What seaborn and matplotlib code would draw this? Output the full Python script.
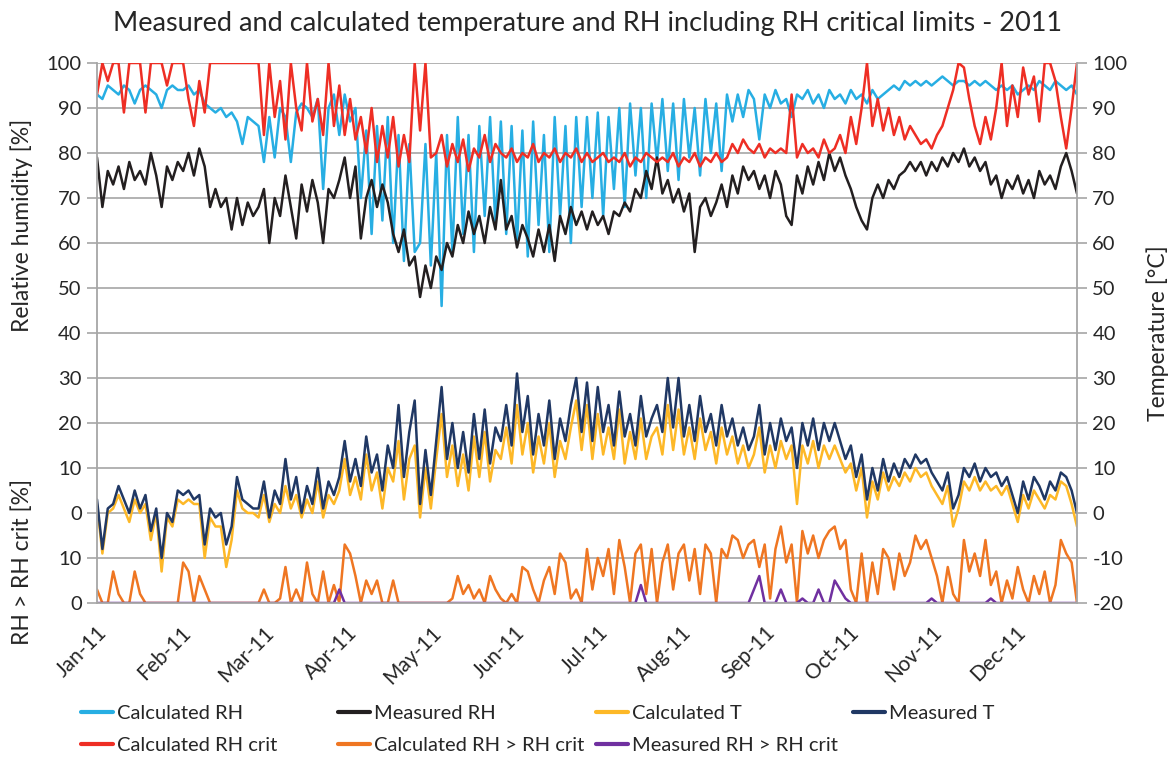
import numpy as np
import pandas as pd
import matplotlib
matplotlib.use("Agg")
import matplotlib.pyplot as plt
from matplotlib.lines import Line2D
import seaborn as sns

# day of year 2011 (0 = 1 Jan), one reading every second day
days = np.arange(0, 365, 2)

month_labels = ['Jan-11', 'Feb-11', 'Mar-11', 'Apr-11', 'May-11', 'Jun-11',
                'Jul-11', 'Aug-11', 'Sep-11', 'Oct-11', 'Nov-11', 'Dec-11']

calc_rh = ([93, 92, 95, 94, 93, 95, 94, 91, 94, 95, 94, 93, 90, 94, 95, 94]     # Jan
           + [94, 95, 93, 94, 91, 90, 89, 90, 88, 89, 87, 82, 88, 87]           # Feb
           + [86, 78, 88, 79, 90, 88, 78, 89, 91, 90, 88, 92, 72, 90, 93]       # Mar
           + [84, 93, 87, 90, 70, 85, 62, 86, 65, 88, 60, 84, 56, 82, 58]       # Apr
           + [60, 82, 55, 80, 46, 84, 58, 88, 62, 84, 58, 86, 66, 88, 64, 87]   # May
           + [62, 86, 60, 85, 57, 87, 64, 84, 58, 88, 66, 86, 60, 88, 68]       # Jun
           + [88, 70, 89, 66, 88, 72, 90, 68, 91, 75, 90, 70, 91, 78, 92]       # Jul
           + [76, 91, 74, 92, 79, 90, 75, 92, 80, 91, 76, 93, 87, 93, 88, 94]   # Aug
           + [92, 83, 93, 90, 94, 91, 92, 88, 93, 92, 94, 91, 93, 90, 94]       # Sep
           + [92, 93, 91, 94, 92, 93, 91, 94, 92, 93, 94, 95, 94, 96, 95]       # Oct
           + [96, 95, 96, 95, 96, 97, 96, 95, 96, 96, 95, 96, 95, 96, 95]       # Nov
           + [94, 95, 94, 95, 93, 94, 95, 94, 96, 95, 94, 96, 95, 94, 95, 93])  # Dec

meas_rh = ([79, 68, 76, 73, 77, 72, 78, 74, 76, 73, 80, 75, 68, 77, 74, 78]
           + [76, 80, 75, 81, 77, 68, 72, 68, 70, 63, 70, 64, 69, 66]
           + [68, 72, 60, 70, 66, 75, 68, 61, 73, 67, 74, 69, 60, 72, 70]
           + [74, 79, 70, 77, 61, 70, 74, 68, 73, 69, 62, 58, 63, 55, 57]
           + [48, 55, 50, 57, 54, 60, 57, 64, 60, 67, 62, 66, 60, 68, 63, 74]
           + [63, 66, 59, 64, 61, 57, 63, 58, 64, 56, 66, 62, 68, 64, 67]
           + [63, 67, 64, 66, 62, 67, 66, 69, 67, 72, 70, 76, 72, 79, 71]
           + [74, 69, 72, 67, 71, 58, 68, 70, 66, 69, 73, 68, 75, 71, 77, 74]
           + [76, 72, 75, 70, 76, 73, 66, 64, 75, 71, 77, 73, 78, 74, 80]
           + [76, 79, 75, 72, 68, 65, 63, 70, 73, 70, 74, 72, 75, 76, 78]
           + [76, 78, 75, 78, 76, 79, 77, 80, 78, 81, 77, 79, 76, 78, 73]
           + [75, 70, 74, 72, 75, 71, 74, 70, 76, 73, 75, 72, 77, 80, 76, 71])

calc_t = ([2, -9, 0, 1, 4, 1, -2, 3, 0, 2, -6, 0, -13, -1, -3, 3]
          + [2, 3, 2, 2, -10, -1, -3, -3, -12, -6, 5, 1, 0, 0]
          + [-1, 4, -2, 2, 0, 6, 1, 4, -1, 3, 0, 7, -1, 4, 2]
          + [5, 12, 4, 8, 3, 13, 5, 9, 1, 10, 7, 16, 3, 12, 15]
          + [-1, 10, 1, 12, 22, 8, 15, 6, 13, 5, 17, 8, 18, 7, 14, 12]
          + [19, 11, 24, 13, 20, 9, 17, 11, 20, 8, 16, 12, 19, 25, 14]
          + [24, 12, 22, 13, 19, 12, 23, 11, 18, 12, 21, 12, 17, 19, 13]
          + [24, 14, 23, 13, 19, 12, 21, 14, 18, 11, 19, 13, 17, 11, 15, 10]
          + [13, 19, 9, 15, 10, 16, 12, 15, 2, 15, 11, 16, 10, 15, 12]
          + [15, 12, 9, 11, 5, 10, -1, 7, 3, 9, 5, 8, 6, 9, 7]
          + [10, 8, 9, 6, 4, 2, 6, -3, 1, 7, 5, 8, 5, 7, 5]
          + [6, 4, 6, 2, -2, 4, 1, 5, 3, 1, 4, 3, 7, 6, 2, -3])

meas_t = ([3, -8, 1, 2, 6, 3, 0, 5, 1, 4, -4, 1, -10, 0, -2, 5]
          + [4, 5, 3, 4, -7, 1, -1, 0, -7, -3, 8, 3, 2, 1]
          + [1, 7, -1, 5, 2, 12, 3, 8, 0, 6, 2, 10, 1, 7, 4]
          + [8, 16, 7, 12, 6, 17, 9, 13, 5, 15, 10, 24, 8, 18, 25]
          + [2, 14, 4, 16, 28, 12, 20, 10, 18, 9, 22, 12, 23, 11, 19, 16]
          + [24, 15, 31, 18, 26, 13, 22, 15, 25, 12, 21, 16, 24, 30, 18]
          + [29, 16, 28, 18, 24, 15, 27, 17, 22, 15, 26, 17, 21, 24, 18]
          + [30, 19, 30, 17, 24, 16, 26, 18, 22, 15, 24, 17, 21, 15, 19, 14]
          + [17, 24, 13, 20, 14, 21, 16, 19, 10, 20, 15, 21, 14, 20, 16]
          + [20, 16, 12, 15, 8, 13, 3, 10, 5, 12, 7, 11, 8, 12, 10]
          + [13, 11, 12, 9, 7, 5, 9, 1, 4, 10, 8, 11, 7, 10, 8]
          + [9, 6, 8, 4, 0, 7, 3, 8, 6, 3, 7, 5, 9, 8, 5, 0])

calc_rh_crit = ([93, 100, 96, 100, 100, 89, 100, 100, 100, 89, 100, 100, 100, 95, 100, 100]
                + [100, 92, 86, 96, 89, 100, 100, 100, 100, 100, 100, 100, 100, 100]
                + [100, 84, 100, 88, 96, 83, 100, 90, 85, 100, 87, 92, 84, 100, 86]
                + [95, 84, 92, 83, 88, 80, 90, 78, 86, 79, 88, 77, 84, 78, 100]
                + [85, 100, 79, 80, 84, 77, 82, 78, 83, 76, 81, 79, 84, 78, 82, 80]
                + [79, 81, 78, 80, 79, 82, 78, 80, 79, 81, 78, 80, 79, 81, 78]
                + [80, 78, 79, 80, 78, 79, 78, 80, 77, 79, 78, 80, 79, 78, 79]
                + [78, 80, 77, 79, 78, 80, 77, 79, 78, 80, 78, 79, 82, 80, 83, 81]
                + [80, 82, 79, 81, 80, 81, 80, 93, 79, 82, 80, 81, 79, 83, 80]
                + [81, 84, 80, 88, 82, 90, 100, 86, 92, 85, 90, 84, 88, 83, 86]
                + [84, 82, 83, 81, 84, 86, 90, 94, 100, 99, 92, 86, 82, 88, 83]
                + [90, 100, 86, 95, 88, 99, 93, 97, 87, 100, 100, 96, 88, 81, 90, 100])

# exceedance of the critical RH, % (plotted on the bottom band of the chart)
calc_exc = ([3, 0, 0, 7, 2, 0, 0, 7, 2, 0, 0, 0, 0, 0, 0, 0]
            + [9, 7, 0, 6, 3, 0, 0, 0, 0, 0, 0, 0, 0, 0]
            + [0, 3, 0, 0, 1, 8, 0, 3, 0, 9, 2, 0, 7, 0, 4]
            + [0, 13, 11, 6, 0, 5, 2, 5, 0, 0, 5, 0, 0, 0, 0]
            + [0, 0, 0, 0, 0, 0, 1, 6, 2, 4, 1, 3, 0, 6, 3, 1]
            + [0, 2, 0, 8, 7, 3, 0, 5, 8, 2, 11, 9, 1, 3, 0]
            + [12, 3, 10, 6, 12, 2, 14, 8, 0, 11, 13, 2, 12, 0, 9]
            + [13, 3, 11, 13, 5, 12, 2, 13, 11, 0, 12, 10, 15, 14, 10, 13]
            + [14, 8, 13, 1, 12, 17, 9, 13, 0, 16, 11, 15, 10, 14, 16]
            + [17, 12, 14, 3, 0, 11, 0, 9, 2, 12, 10, 3, 11, 6, 9]
            + [15, 12, 14, 10, 6, 0, 8, 2, 0, 14, 7, 11, 6, 14, 4]
            + [7, 0, 5, 1, 8, 3, 0, 6, 2, 7, 0, 4, 14, 11, 9, 0])

# measured exceedance is zero except for a few short events
meas_exc_days = [90, 202, 244, 246, 254, 262, 268, 274, 276, 278, 310, 332]
meas_exc_vals = [3, 4, 3, 6, 3, 1, 3, 5, 3, 1, 1, 1]

meas_exc = np.zeros(len(days))
meas_exc[np.searchsorted(days, meas_exc_days)] = meas_exc_vals

df = pd.DataFrame({'day': days, 'calc_rh': calc_rh, 'meas_rh': meas_rh,
                   'calc_t': calc_t, 'meas_t': meas_t, 'calc_rh_crit': calc_rh_crit,
                   'calc_exc': calc_exc, 'meas_exc': meas_exc})
# the exceedance band has its own zero at -20 of the main scale
df['calc_exc_band'] = df['calc_exc'] - 20
df['meas_exc_band'] = df['meas_exc'] - 20

series = [('calc_rh', 'Calculated RH', '#27aee3'),
          ('meas_rh', 'Measured RH', '#231f20'),
          ('calc_t', 'Calculated T', '#fdb827'),
          ('meas_t', 'Measured T', '#203864'),
          ('calc_rh_crit', 'Calculated RH crit', '#ee2e24'),
          ('calc_exc_band', 'Calculated RH > RH crit', '#ef7622'),
          ('meas_exc_band', 'Measured RH > RH crit', '#7030a0')]
colors = {label: c for _, label, c in series}

sns.set_theme(style="white")
plt.rcParams['font.family'] = ['Lato', 'DejaVu Sans']
grey = '#a6a6a6'
ink = '#262626'

fig = plt.figure(figsize=(11.75, 7.65), dpi=100)
ax = fig.add_axes([97 / 1175, 1 - 603 / 765, 980 / 1175, 540 / 765])

for col, label, color in series:
    sns.lineplot(data=df, x='day', y=col, color=color, lw=1.8, ax=ax, legend=False)

ax.set_xlim(0, 364)
ax.set_ylim(-20, 100)
yt = np.arange(-20, 101, 10)
ax.set_yticks(yt)
ax.set_yticklabels(['0', '10'] + [str(v) for v in range(0, 101, 10)])
ax.yaxis.grid(True, color=grey, lw=1.2)
ax.set_axisbelow(True)
ax.set_xticks(np.arange(12) * 31)
ax.set_xticklabels(month_labels, rotation=45, ha='right', rotation_mode='anchor')
ax.set_xlabel('')
ax.set_ylabel('')
ax.tick_params(axis='x', direction='out', length=6, color=grey, width=1.2,
               labelsize=15, pad=8, colors=ink)
ax.tick_params(axis='y', direction='out', length=7, color=grey, width=1.2,
               labelsize=14.5, pad=4, colors=ink, left=True)
for s in ['left', 'right', 'bottom']:
    ax.spines[s].set_color(grey)
    ax.spines[s].set_linewidth(1.3)
    ax.spines[s].set_zorder(5)
ax.spines['top'].set_visible(False)

ax2 = ax.twinx()
ax2.set_ylim(-20, 100)
ax2.set_yticks(yt)
ax2.set_yticklabels([str(v) for v in yt])
ax2.tick_params(axis='y', direction='out', length=7, color=grey, width=1.2,
                labelsize=14.5, pad=4, colors=ink, right=True)
for s in ax2.spines.values():
    s.set_visible(False)

fig.text(0.5, 1 - 24 / 765, 'Measured and calculated temperature and RH including RH critical limits - 2011',
         ha='center', va='center', fontsize=19.5, color=ink)
fig.text(22 / 1175, 1 - 225 / 765, 'Relative humidity [%]', rotation=90,
         ha='center', va='center', fontsize=16.5, color=ink)
fig.text(22 / 1175, 1 - 562 / 765, 'RH > RH crit [%]', rotation=90,
         ha='center', va='center', fontsize=16.5, color=ink)
fig.text(1158 / 1175, 1 - 333 / 765, 'Temperature [°C]', rotation=90,
         ha='center', va='center', fontsize=16.5, color=ink)

legend_cols = [(81, ['Calculated RH', 'Calculated RH crit']),
               (338, ['Measured RH', 'Calculated RH > RH crit']),
               (596, ['Calculated T', 'Measured RH > RH crit']),
               (853, ['Measured T'])]
for x0, labels in legend_cols:
    handles = [Line2D([], [], color=colors[l], lw=3) for l in labels]
    fig.legend(handles, labels, loc='upper left', bbox_to_anchor=(x0 / 1175, 1 - 705 / 765),
               frameon=False, fontsize=14.5, handlelength=1.6, handletextpad=0.2,
               borderpad=0, borderaxespad=0, labelspacing=0.72, labelcolor=ink)

fig.savefig('out.png', dpi=100)
